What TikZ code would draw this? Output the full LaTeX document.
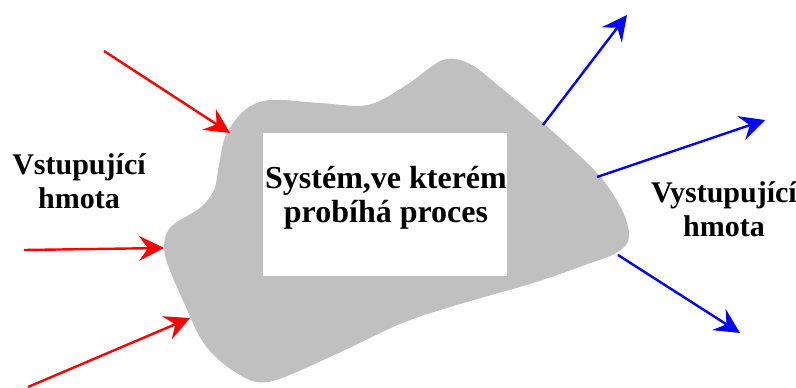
\documentclass[tikz,border=0pt]{standalone}
\usepackage{fontspec}
\setmainfont{Liberation Serif}
\usetikzlibrary{arrows.meta}
\definecolor{blobgray}{RGB}{192,192,192}
\definecolor{inred}{RGB}{255,0,0}
\definecolor{outblue}{RGB}{0,0,255}
\tikzset{
  lbl/.style={font=\bfseries\fontsize{30}{34}\selectfont, align=center, inner sep=0pt},
  boxlbl/.style={font=\bfseries\fontsize{32}{34}\selectfont, align=center, inner sep=0pt},
  inarrow/.style={draw=inred, line width=2.4pt, -{Stealth[length=25pt,width=25pt,inset=9pt]}},
  outarrow/.style={draw=outblue, line width=2.4pt, -{Stealth[length=25pt,width=25pt,inset=9pt]}},
  whitebox/.style={fill=white, draw=none, minimum width=244pt, minimum height=143pt, inner sep=0pt}
}
\begin{document}
\begin{tikzpicture}[x=1pt,y=-1pt]
\useasboundingbox[fill=white] (0,0) rectangle (796,388);
% blob
\fill[blobgray] plot[smooth cycle, tension=0.55] coordinates {
 (219,165) (226,135) (245,110) (270,100) (320,103) (368,105) (405,86)
 (443,60) (470,64) (500,87) (543,123) (597,173) (622,210) (629,237)
 (618,252) (585,265) (533,283) (450,307) (400,324) (330,357) (268,382)
 (235,372) (205,345) (185,305) (165,255) (170,228) (200,208) (214,190)
};
% white box
\node[whitebox] (box) at (385,204.5) {};
\node[boxlbl] (boxtext) at (386,198) {Systém,ve kterém\\probíhá proces};
% labels
\node[lbl] (inlabel) at (79,181) {Vstupující\\hmota};
\node[lbl] (outlabel) at (724,209) {Vystupující\\hmota};
% arrow ends
\coordinate (r1s) at (104,51);   \coordinate (r1e) at (230,133);
\coordinate (r2s) at (24,250);   \coordinate (r2e) at (164,248);
\coordinate (r3s) at (28,387);   \coordinate (r3e) at (190,318);
\coordinate (b1s) at (543,125);  \coordinate (b1e) at (627,15);
\coordinate (b2s) at (597,177);  \coordinate (b2e) at (765,120);
\coordinate (b3s) at (618,255);  \coordinate (b3e) at (740,333);
\draw[inarrow] (r1s) -- (r1e);
\draw[inarrow] (r2s) -- (r2e);
\draw[inarrow] (r3s) -- (r3e);
\draw[outarrow] (b1s) -- (b1e);
\draw[outarrow] (b2s) -- (b2e);
\draw[outarrow] (b3s) -- (b3e);
\end{tikzpicture}
\end{document}
